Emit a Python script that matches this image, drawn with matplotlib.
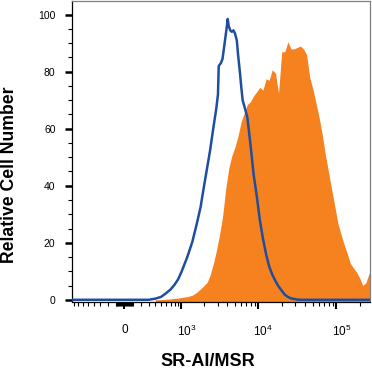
import numpy as np
import matplotlib
matplotlib.use('Agg')
import matplotlib.pyplot as plt
from matplotlib.ticker import FixedLocator, NullFormatter, MultipleLocator, FixedFormatter
import matplotlib.transforms as mtransforms

plt.rcParams['font.family'] = ['Liberation Sans', 'DejaVu Sans']
plt.rcParams['mathtext.fontset'] = 'custom'
plt.rcParams['mathtext.rm'] = 'Liberation Sans'
plt.rcParams['mathtext.it'] = 'Liberation Sans:italic'
plt.rcParams['mathtext.bf'] = 'Liberation Sans:bold'

# ---- data (fluorescence intensity vs relative cell number) ----
control_x = [-880, 300, 400, 500, 600, 700, 800, 900, 1000, 1200, 1400, 1600, 1800,
             2000, 2200, 2400, 2630, 2880, 3030, 3100, 3300, 3470, 3800, 3950, 4050,
             4170, 4370, 4570, 4800, 5010, 5300, 5500, 5800, 6030, 6300, 6610, 7240,
             7940, 8710, 9550, 10470, 11480, 12590, 13800, 15140, 16600, 18200, 20000,
             21900, 24000, 26300, 28800, 31600, 34700, 275000]
control_y = [0, 0, 0.4, 1.0, 2.3, 3.6, 5.3, 7.2, 9.8, 15, 20.3, 26.5, 32.5,
             40, 46.5, 52.5, 60, 67, 72, 82, 83, 84.5, 92.5, 96, 98.5,
             96, 94.5, 94, 94.5, 93.5, 91, 86, 80, 75, 70, 68, 64,
             54.5, 44, 36.5, 28, 21.5, 16, 11.7, 8.8, 6.6, 4.7, 3.2,
             1.8, 1.0, 0.5, 0.3, 0.1, 0, 0]

sample_x = [400, 500, 600, 700, 800, 900, 1000, 1200, 1400, 1600, 1800, 2000, 2200,
            2400, 2630, 2880, 3160, 3470, 3800, 4170, 4570, 5010, 5500, 6030, 6610,
            7240, 7940, 8710, 9550, 10470, 11480, 12590, 13800, 15140, 16600, 18200,
            20000, 21900, 24000, 26300, 28800, 31600, 34700, 38000, 41700, 45700,
            50100, 55000, 60300, 66100, 72400, 79400, 87100, 95500, 104700, 114800,
            125900, 138000, 151400, 166000, 182000, 199500, 218800, 239900, 263000,
            275000]
sample_y = [0, 0.1, 0.2, 0.3, 0.5, 0.6, 0.8, 1.1, 1.6, 2.6, 3.8, 5, 6.2,
            8.7, 12.5, 17, 22.5, 29, 38.5, 46, 50.5, 53.5, 57.5, 62.5, 65.5,
            68.5, 69.5, 71.5, 73, 74.5, 73.5, 77.5, 77, 80.7, 79.5, 72.5,
            87, 87, 90.5, 88, 88, 88.5, 89, 88, 86, 78,
            74, 69, 64, 58, 51, 45, 39, 33, 27, 23,
            19.5, 16.3, 12.8, 11.2, 9.7, 7.7, 5, 6, 9.2,
            9.5]

x_major = [0, 1000, 10000, 100000]
x_major_labels = ['0', '$10^{3}$', '$10^{4}$', '$10^{5}$']
x_minor = ([-v for v in range(100, 1000, 100)] + [-v for v in range(10, 100, 10)] +
           list(range(10, 100, 10)) + list(range(100, 1000, 100)) +
           list(range(2000, 10000, 1000)) + list(range(20000, 100000, 10000)) +
           [200000])
y_major = [0, 20, 40, 60, 80, 100]

ORANGE = '#F5821F'
BLUE = '#1F4E9F'
C = 385.0

fig = plt.figure(figsize=(3.72, 3.73), dpi=100)
ax = fig.add_axes([71.5 / 372, 1 - 301.5 / 373, (370.5 - 71.5) / 372, (300.5) / 373])

ax.set_xscale('function', functions=(lambda x: np.arcsinh(np.asarray(x) / C),
                                     lambda y: C * np.sinh(np.asarray(y))))

ax.fill_between(sample_x, sample_y, -2, color=ORANGE, lw=0, zorder=2)
ax.plot(control_x, control_y, color=BLUE, lw=1.8, zorder=3, solid_joinstyle='round')

ax.set_xlim(-880, 275000)
ax.set_ylim(-0.6, 104.8)

ax.xaxis.set_major_locator(FixedLocator(x_major))
ax.xaxis.set_major_formatter(FixedFormatter(x_major_labels))
ax.xaxis.set_minor_locator(FixedLocator(x_minor))
ax.xaxis.set_minor_formatter(NullFormatter())
ax.yaxis.set_major_locator(FixedLocator(y_major))
ax.yaxis.set_minor_locator(MultipleLocator(5))

ax.tick_params(axis='x', which='major', length=5, width=1.5, pad=11, labelsize=8.5, direction='out')
ax.tick_params(axis='x', which='minor', length=3, width=0.8, direction='out')
ax.tick_params(axis='y', which='major', length=5, width=1.8, pad=6.5, labelsize=7.5, direction='out')
ax.tick_params(axis='y', which='minor', length=3, width=0.8, direction='out')

for lab, v in zip(ax.get_xticklabels(), x_major):
    if v != 0:
        lab.set_transform(lab.get_transform() +
                          mtransforms.ScaledTranslation(5 / 100, 0, fig.dpi_scale_trans))

for s in ['top', 'right']:
    ax.spines[s].set_color('#808080')
    ax.spines[s].set_linewidth(0.9)
for s in ['left', 'bottom']:
    ax.spines[s].set_color('black')
    ax.spines[s].set_linewidth(0.9)

fig.text(208 / 372, 1 - 361 / 373, 'SR-AI/MSR', fontsize=13, fontweight='bold',
         ha='center', va='center')
fig.text(10 / 372, 1 - 175 / 373, 'Relative Cell Number', fontsize=12.7, fontweight='bold',
         ha='center', va='center', rotation=90)

fig.savefig('out.png', dpi=100)
